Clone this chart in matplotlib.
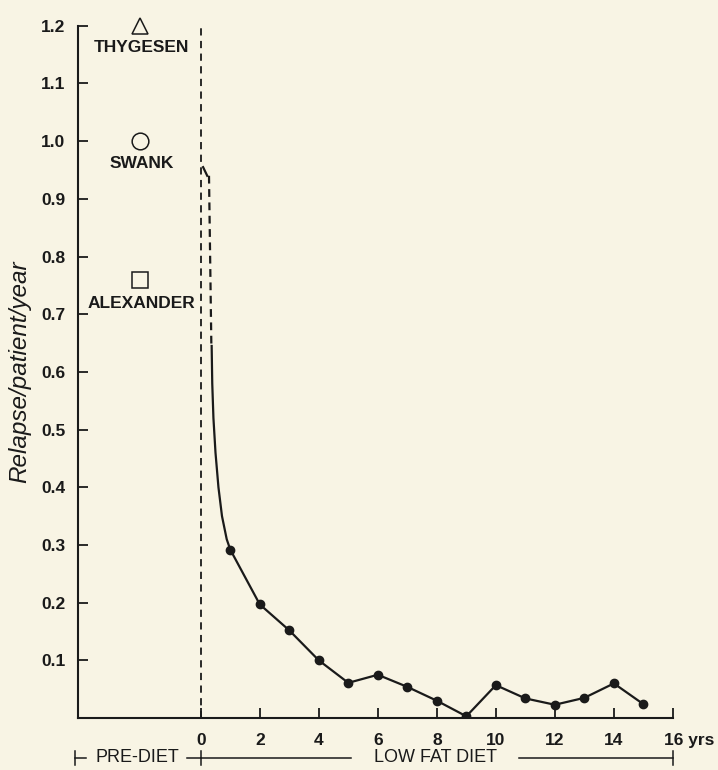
import numpy as np
import matplotlib.pyplot as plt
import matplotlib.transforms as mtransforms

plt.rcParams['font.family'] = ['Liberation Sans', 'DejaVu Sans']

# yearly relapse rate on the low fat diet
years = [1, 2, 3, 4, 5, 6, 7, 8, 9, 10, 11, 12, 13, 14, 15]
rate = [0.292, 0.197, 0.152, 0.100, 0.061, 0.075, 0.054, 0.030, 0.003,
        0.057, 0.034, 0.023, 0.035, 0.060, 0.024]

# early drop during the first year
early_x = [0.37, 0.39, 0.43, 0.50, 0.60, 0.72, 0.88, 1.0]
early_y = [0.645, 0.58, 0.52, 0.46, 0.40, 0.35, 0.31, 0.292]
start_x = [0.08, 0.22]
start_y = [0.955, 0.94]
gap_x = [0.28, 0.36]
gap_y = [0.94, 0.645]

# pre-diet rates from other studies
studies = ['THYGESEN', 'SWANK', 'ALEXANDER']
study_rate = [1.2, 1.0, 0.76]
study_marker = ['^', 'o', 's']
study_x = -2.05

yticks = [0.1, 0.2, 0.3, 0.4, 0.5, 0.6, 0.7, 0.8, 0.9, 1.0, 1.1, 1.2]
xticks = [0, 2, 4, 6, 8, 10, 12, 14, 16]

bg = '#f8f4e4'
ink = '#1a1a1a'

fig = plt.figure(figsize=(7.18, 7.7), dpi=100, facecolor=bg)
ax = fig.add_axes([0.1086, 0.0675, 0.8286, 0.899])
ax.set_facecolor(bg)

ax.set_xlim(-4.16, 16)
ax.set_ylim(0, 1.2)

# diet start marker
ax.plot([0, 0], [0, 1.2], color=ink, lw=1.3, ls=(0, (4, 3)))

# curve
ax.plot(start_x, start_y, color=ink, lw=1.6)
ax.plot(gap_x, gap_y, color=ink, lw=1.6, ls=(0, (3.5, 2.5)))
ax.plot(early_x, early_y, color=ink, lw=1.6)
ax.plot(years, rate, color=ink, lw=1.6, marker='o', ms=6)

# study markers + labels
label_off = [-0.037, -0.038, -0.041]
for name, r, m, off in zip(studies, study_rate, study_marker, label_off):
    ax.plot(study_x, r, marker=m, ms=12, mfc='none', mec=ink, mew=1.1,
            clip_on=False)
    ax.text(study_x + 0.05, r + off, name, ha='center', va='center',
            fontsize=12.5, fontweight='bold', color=ink)

for s in ['top', 'right']:
    ax.spines[s].set_visible(False)
for s in ['left', 'bottom']:
    ax.spines[s].set_color(ink)
    ax.spines[s].set_linewidth(1.5)

ax.set_yticks(yticks)
ax.set_yticklabels([f'{v:.1f}' for v in yticks])
ax.set_xticks(xticks)
ax.set_xticklabels([str(v) for v in xticks[:-1]] + ['16 yrs'])
ax.tick_params(axis='y', direction='in', length=7, width=1.3, pad=9,
               labelsize=12.5, colors=ink)
ax.tick_params(axis='x', direction='in', length=7, width=1.3, pad=11,
               labelsize=12.5, colors=ink)
for lab in ax.get_yticklabels() + ax.get_xticklabels():
    lab.set_fontweight('bold')
last = ax.get_xticklabels()[-1]
last.set_horizontalalignment('left')
last.set_transform(last.get_transform() +
                   mtransforms.ScaledTranslation(-9 / 100, 0, fig.dpi_scale_trans))

ax.set_ylabel('Relapse/patient/year', fontsize=17.5, fontstyle='italic',
              color=ink, labelpad=7)

# diet period annotation under the axis
yb = -0.069
kw = dict(color=ink, lw=1.1, clip_on=False)
for xv in [-4.25, 0, 16]:
    ax.plot([xv, xv], [yb - 0.012, yb + 0.012], **kw)
ax.plot([-4.25, -3.9], [yb, yb], **kw)
ax.plot([-0.45, 0], [yb, yb], **kw)
ax.plot([0, 5.1], [yb, yb], **kw)
ax.plot([10.8, 16], [yb, yb], **kw)
ax.text(-2.15, yb, 'PRE-DIET', ha='center', va='center', fontsize=13,
        color=ink)
ax.text(7.95, yb, 'LOW FAT DIET', ha='center', va='center', fontsize=13,
        color=ink)

fig.savefig('out.png', dpi=100, facecolor=bg)
